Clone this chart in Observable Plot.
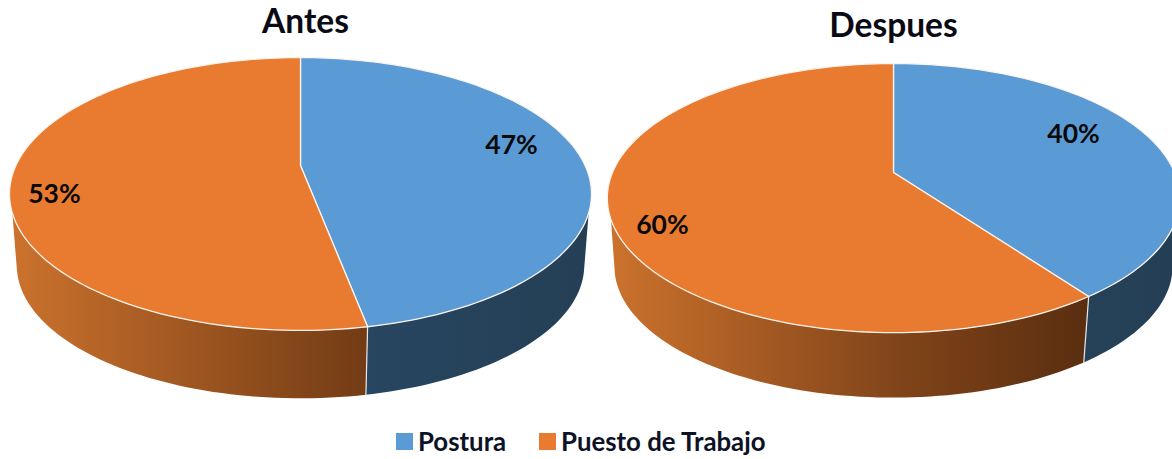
<!DOCTYPE html>
<html>
<head>
<meta charset="utf-8">
<script src="https://cdn.jsdelivr.net/npm/d3@7"></script>
<script src="https://cdn.jsdelivr.net/npm/@observablehq/plot@0.6"></script>
<style>
html,body{margin:0;padding:0;background:#fff;overflow:hidden;width:1172px;height:459px}
#legend{height:39px;position:relative;font:700 25.8px Lato,sans-serif;color:#0d1326}
#legend span{position:absolute;top:7px;line-height:28px;white-space:nowrap}
#legend i{position:absolute;top:13px;width:17px;height:17px}
</style>
</head>
<body>
<div id="chart"></div>
<div id="legend"></div>
<script>
const categories = ["Postura", "Puesto de Trabajo"];
const pieTitles = ["Antes", "Despues"];
const antesValues = [47, 53];
const despuesValues = [40, 60];
const topColors = ["#5B9BD5", "#E97B31"];

// where each percentage label sits on its pie: turn around the circle, radius
const antesLabelTurn = [0.2176, 0.71], antesLabelRadius = [0.782, 0.853];
const despuesLabelTurn = [0.1817, 0.6767], despuesLabelRadius = [0.746, 0.852];

const W = 1172, H = 420;

// perspective pie layout: apex, half-width factor, tilt, depth
const layouts = [
  {id: "a", title: pieTitles[0], values: antesValues, turn: antesLabelTurn, rad: antesLabelRadius,
   cx: 300, cy: 165, c: 284.6, a: 130.5, k: 0.2088, depth: 72, titleX: 305, titleY: 22,
   orange: [["0%", "#CB722D"], ["100%", "#733C15"]], ox: [12, 364],
   blue: [["0%", "#284661"], ["100%", "#243F55"]], bx: [364, 591]},
  {id: "b", title: pieTitles[1], values: despuesValues, turn: despuesLabelTurn, rad: despuesLabelRadius,
   cx: 893, cy: 172, c: 281, a: 129.7, k: 0.19, depth: 69, titleX: 893, titleY: 26,
   orange: [["0%", "#CB722D"], ["62%", "#7F4319"], ["100%", "#5A2E10"]], ox: [610, 1088],
   blue: [["0%", "#264259"], ["100%", "#243F55"]], bx: [1088, 1172]}
];
const bottomScale = 0.975;
const sideLimitsTop = [0.305, 0.695];    // where the side wall leaves the top rim
const sideLimitsBottom = [0.29, 0.71];   // where it joins the lower rim

function project(p, turn, r, lower) {
  const t = turn * 2 * Math.PI, u = r * Math.sin(t), v = r * Math.cos(t), w = 1 + p.k * v;
  const s = lower ? bottomScale : 1;
  return {x: p.cx + s * p.c * u / w, y: p.cy + (lower ? p.depth : 0) - s * p.a * v / w};
}
function arc(p, t0, t1, lower) {
  const n = Math.ceil(Math.abs(t1 - t0) * 240);
  return d3.range(n + 1).map(i => project(p, t0 + (t1 - t0) * i / n, 1, lower));
}

const defs = () => {
  const d = d3.create("svg:defs");
  for (const p of layouts) for (const [name, stops, xs] of [["orange", p.orange, p.ox], ["blue", p.blue, p.bx]]) {
    const g = d.append("linearGradient").attr("id", `${name}-${p.id}`)
      .attr("gradientUnits", "userSpaceOnUse")
      .attr("x1", xs[0]).attr("x2", xs[1]).attr("y1", 0).attr("y2", 0);
    for (const [o, c] of stops) g.append("stop").attr("offset", o).attr("stop-color", c);
  }
  return d.node();
};

const sideMarks = [], topMarks = [], labelRows = [], titleRows = [];
for (const p of layouts) {
  const split = p.values[0] / d3.sum(p.values);
  const ranges = [[0, split], [split, 1]];
  // sides: blue runs right limit -> split, orange runs split -> left limit
  const bluePoly = [...arc(p, sideLimitsTop[0], split, false), ...arc(p, split, sideLimitsBottom[0], true)];
  const orangePoly = [...arc(p, split, sideLimitsTop[1], false), ...arc(p, sideLimitsBottom[1], split, true)];
  [bluePoly, orangePoly].forEach((poly, i) => {
    poly.push(poly[0]);
    sideMarks.push(Plot.line(poly, {x: "x", y: "y", stroke: "none", fill: `url(#${i ? "orange" : "blue"}-${p.id})`}));
  });
  // seam between the two sides
  sideMarks.push(Plot.line([project(p, split, 1, false), project(p, split, 1, true)],
    {x: "x", y: "y", stroke: "#e8e8e8", strokeWidth: 1.2}));
  // top faces
  ranges.forEach(([t0, t1], i) => {
    const poly = [{x: p.cx, y: p.cy}, ...arc(p, t0, t1, false), {x: p.cx, y: p.cy}];
    topMarks.push(Plot.line(poly, {x: "x", y: "y", fill: topColors[i], stroke: "#fbf3ec", strokeWidth: 1.3, strokeLinejoin: "round"}));
  });
  p.values.forEach((v, i) => {
    const q = project(p, p.turn[i], p.rad[i], false);
    labelRows.push({...q, text: v + "%"});
  });
  titleRows.push({x: p.titleX, y: p.titleY, text: p.title});
}

const chart = Plot.plot({
  width: W, height: H,
  marginTop: 0, marginRight: 0, marginBottom: 0, marginLeft: 0,
  x: {domain: [0, W], range: [0, W], axis: null},
  y: {domain: [0, H], range: [0, H], axis: null},
  style: {background: "#fff", overflow: "hidden"},
  marks: [
    defs,
    ...sideMarks,
    ...topMarks,
    Plot.text(labelRows, {x: "x", y: "y", text: "text", fontSize: 26.5, fontWeight: 700, fontFamily: "Lato, sans-serif", fill: "#0a0a0a"}),
    Plot.text(titleRows, {x: "x", y: "y", text: "text", fontSize: 33.5, fontWeight: 700, fontFamily: "Lato, sans-serif", fill: "#0a0a14"})
  ]
});
document.getElementById("chart").appendChild(chart);
chart.style.display = "block";

const legend = document.getElementById("legend");
const legendSwatchX = [396, 539], legendTextX = [418, 561];
categories.forEach((c, i) => {
  const sw = document.createElement("i");
  sw.style.left = legendSwatchX[i] + "px";
  sw.style.background = topColors[i];
  const t = document.createElement("span");
  t.style.left = legendTextX[i] + "px";
  t.textContent = c;
  legend.append(sw, t);
});
</script>
</body>
</html>
